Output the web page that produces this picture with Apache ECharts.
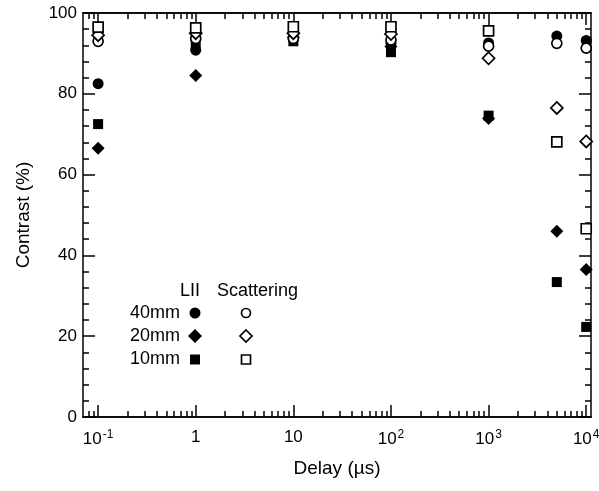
<!DOCTYPE html>
<html>
<head>
<meta charset="utf-8">
<script src="https://cdn.jsdelivr.net/npm/echarts@6/dist/echarts.min.js"></script>
<style>
  html, body { margin: 0; padding: 0; background: #fff; }
  #chart { width: 599px; height: 491px; }
</style>
</head>
<body>
<div id="chart"></div>
<script>
// Delay values (µs) at which contrast was measured
const delays = [0.1, 1, 10, 100, 1000, 5000, 10000];

// Laser-induced incandescence (LII) contrast, %
const lii40 = [82.5, 90.8, 93.5, 92.5, 92.6, 94.3, 93.2];
const lii20 = [66.5, 84.5, 94.0, 91.7, 73.9, 46.0, 36.5];
const lii10 = [72.5, 92.0, 93.0, 90.3, 74.6, 33.4, 22.3];

// Scattering contrast, %
const sca40 = [93.0, 93.7, 93.7, 93.3, 91.8, 92.5, 91.3];
const sca20 = [94.5, 95.0, 95.0, 94.8, 88.8, 76.5, 68.2];
const sca10 = [96.5, 96.3, 96.6, 96.6, 95.6, 68.1, 46.6];

// Axis ranges and ticks
const xMin = 0.07, xMax = 11200;
const xMajorTicks = [0.1, 1, 10, 100, 1000, 10000];
const xTickLabels = ['10^-1', '1', '10', '10^2', '10^3', '10^4'];
const xMinorMantissas = [2, 3, 4, 5, 6, 7, 8, 9];
const xMinorExtra = [0.08, 0.09];

const FONT = "'Liberation Sans', Arial, Helvetica, sans-serif";

const log10 = v => Math.log10(v);
const majorLog = xMajorTicks.map(log10);
const minorVals = xMinorExtra.slice();
xMajorTicks.slice(0, -1).forEach(d => xMinorMantissas.forEach(m => minorVals.push(d * m)));
const minorLog = minorVals.map(log10);

function richLabel(text) {
  const i = text.indexOf('^');
  if (i < 0) return '{b|' + text + '}';
  return '{b|' + text.slice(0, i) + '}{s|' + text.slice(i + 1) + '}';
}

function pairs(ys) { return delays.map((x, i) => [x, ys[i]]); }

const AX = { color: '#000', width: 1.5 };

// helper: a value axis living in log10 space, used only to draw ticks/labels
function tickAxis(position, values, len, withLabels) {
  return {
    type: 'value',
    position: position,
    min: log10(xMin),
    max: log10(xMax),
    axisLine: { show: true, onZero: false, lineStyle: AX },
    splitLine: { show: false },
    axisTick: { show: true, inside: true, length: len, customValues: values, lineStyle: AX },
    axisLabel: withLabels ? {
      show: true,
      customValues: majorLog,
      margin: 12,
      formatter: v => richLabel(xTickLabels[Math.round(v) + 1]),
      rich: {
        b: { fontSize: 17, fontFamily: FONT, color: '#000' },
        s: { fontSize: 12, fontFamily: FONT, color: '#000', verticalAlign: 'top', padding: [0, 0, 8, 1] }
      }
    } : { show: false }
  };
}

function yAxisDef(position, withLabels) {
  return {
    type: 'value', position: position, min: 0, max: 100, interval: 20,
    axisLine: { show: true, onZero: false, lineStyle: AX },
    axisTick: { show: true, inside: true, length: 12, lineStyle: AX },
    minorTick: { show: true, splitNumber: 5, length: 6, lineStyle: AX },
    splitLine: { show: false },
    axisLabel: withLabels ? { fontSize: 17, fontFamily: FONT, color: '#000', margin: 6 } : { show: false }
  };
}

const filled = { color: '#000', opacity: 1 };
const open = { color: '#fff', borderColor: '#000', borderWidth: 1.7, opacity: 1 };

const chart = echarts.init(document.getElementById('chart'), null, { renderer: 'canvas' });

chart.setOption({
  animation: false,
  backgroundColor: '#fff',
  textStyle: { fontFamily: FONT, color: '#000' },
  grid: { left: 83, right: 8, top: 13, bottom: 74, containLabel: false, outerBoundsMode: 'none' },
  xAxis: [
    { type: 'log', logBase: 10, min: xMin, max: xMax, show: false },
    Object.assign(tickAxis('bottom', majorLog, 12, true), {
      name: 'Delay (µs)', nameLocation: 'middle', nameGap: 42,
      nameTextStyle: { fontSize: 19, fontFamily: FONT, color: '#000' }
    }),
    tickAxis('bottom', minorLog, 6, false),
    tickAxis('top', majorLog, 12, false),
    tickAxis('top', minorLog, 6, false)
  ],
  yAxis: [
    Object.assign(yAxisDef('left', true), {
      name: 'Contrast (%)', nameLocation: 'middle', nameGap: 50,
      nameTextStyle: { fontSize: 19, fontFamily: FONT, color: '#000' }
    }),
    yAxisDef('right', false)
  ],
  series: [
    { name: 'LII 40mm', type: 'scatter', symbol: 'circle', symbolSize: 11, itemStyle: filled, data: pairs(lii40) },
    { name: 'LII 20mm', type: 'scatter', symbol: 'diamond', symbolSize: 13, itemStyle: filled, data: pairs(lii20) },
    { name: 'LII 10mm', type: 'scatter', symbol: 'rect', symbolSize: 10, itemStyle: filled, data: pairs(lii10) },
    { name: 'Scattering 40mm', type: 'scatter', symbol: 'circle', symbolSize: 10, itemStyle: open, data: pairs(sca40) },
    { name: 'Scattering 20mm', type: 'scatter', symbol: 'diamond', symbolSize: 12, itemStyle: open, data: pairs(sca20) },
    { name: 'Scattering 10mm', type: 'scatter', symbol: 'rect', symbolSize: 10, itemStyle: open, data: pairs(sca10) }
  ].map(s => Object.assign(s, { xAxisIndex: 0, yAxisIndex: 0, emphasis: { disabled: true } })),
  // key: row labels with LII and scattering symbols in two columns
  graphic: [
    { type: 'text', x: 190, y: 291, style: { text: 'LII', font: '18px ' + FONT, fill: '#000', align: 'center', verticalAlign: 'middle' } },
    { type: 'text', x: 217, y: 291, style: { text: 'Scattering', font: '18px ' + FONT, fill: '#000', align: 'left', verticalAlign: 'middle' } },
    { type: 'text', x: 180, y: 313, style: { text: '40mm', font: '18px ' + FONT, fill: '#000', align: 'right', verticalAlign: 'middle' } },
    { type: 'text', x: 180, y: 336, style: { text: '20mm', font: '18px ' + FONT, fill: '#000', align: 'right', verticalAlign: 'middle' } },
    { type: 'text', x: 180, y: 359, style: { text: '10mm', font: '18px ' + FONT, fill: '#000', align: 'right', verticalAlign: 'middle' } },
    { type: 'circle', shape: { cx: 195, cy: 313, r: 5.5 }, style: { fill: '#000' } },
    { type: 'polygon', shape: { points: [[195, 329], [202, 336], [195, 343], [188, 336]] }, style: { fill: '#000' } },
    { type: 'rect', shape: { x: 190, y: 354.5, width: 10, height: 10 }, style: { fill: '#000' } },
    { type: 'circle', shape: { cx: 246, cy: 313, r: 4.5 }, style: { fill: '#fff', stroke: '#000', lineWidth: 1.7 } },
    { type: 'polygon', shape: { points: [[246, 330], [252, 336], [246, 342], [240, 336]] }, style: { fill: '#fff', stroke: '#000', lineWidth: 1.7 } },
    { type: 'rect', shape: { x: 241.5, y: 355, width: 9, height: 9 }, style: { fill: '#fff', stroke: '#000', lineWidth: 1.7 } }
  ]
});
</script>
</body>
</html>
